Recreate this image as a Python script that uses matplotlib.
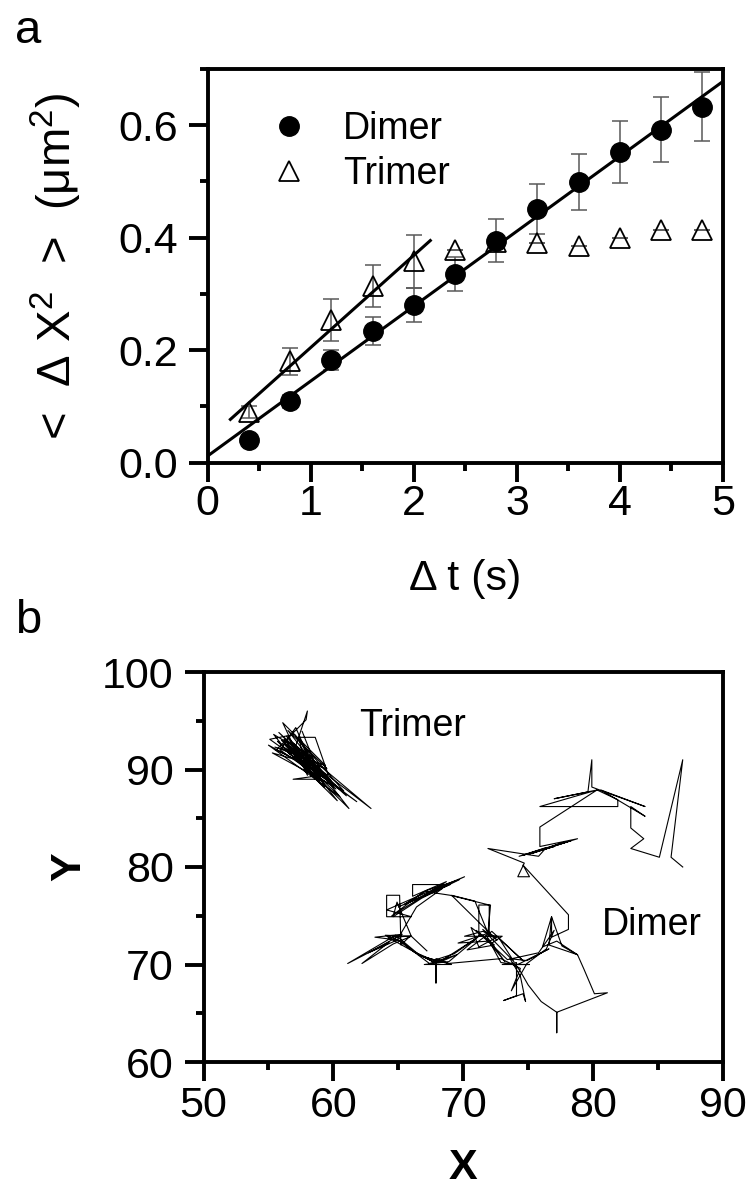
import matplotlib
matplotlib.use("Agg")
import matplotlib.pyplot as plt
from matplotlib.ticker import MultipleLocator
from matplotlib.lines import Line2D

plt.rcParams['font.family'] = ['Liberation Sans', 'DejaVu Sans']
plt.rcParams['mathtext.fontset'] = 'custom'
plt.rcParams['mathtext.rm'] = 'Liberation Sans'
plt.rcParams['mathtext.it'] = 'Liberation Sans:italic'
plt.rcParams['mathtext.bf'] = 'Liberation Sans:bold'

# ---------------- panel a data ----------------
dt = [0.4, 0.8, 1.2, 1.6, 2.0, 2.4, 2.8, 3.2, 3.6, 4.0, 4.4, 4.8]
dimer_msd = [0.041, 0.109, 0.183, 0.234, 0.281, 0.335, 0.395, 0.451, 0.499, 0.553, 0.592, 0.633]
dimer_err = [0.008, 0.012, 0.018, 0.025, 0.030, 0.030, 0.039, 0.044, 0.050, 0.055, 0.058, 0.061]
trimer_msd = [0.090, 0.180, 0.254, 0.314, 0.358, 0.379, 0.393, 0.391, 0.386, 0.399, 0.414, 0.414]
trimer_err = [0.010, 0.024, 0.037, 0.038, 0.047, 0.0, 0.0, 0.0, 0.0, 0.0, 0.0, 0.0]
dimer_fit_t = [0.0, 5.0]
dimer_fit_y = [0.012, 0.678]
trimer_fit_t = [0.22, 2.16]
trimer_fit_y = [0.077, 0.395]

# ---------------- panel b data (trajectories, x, y) ----------------
trimer_path = [
    (57.0, 92.0), (58.0, 96.0), (57.9, 95.1), (55.6, 92.0), (59.2, 89.6), (56.0, 93.0),
    (60.5, 87.2), (55.0, 92.5), (58.6, 89.9), (57.3, 93.3), (58.6, 93.3), (59.6, 89.5),
    (56.9, 89.0), (58.8, 89.0), (56.2, 92.6), (61.2, 86.0), (56.5, 94.0), (59.5, 90.1),
    (55.3, 91.7), (60.0, 88.3), (57.0, 93.6), (55.1, 93.1), (61.8, 86.7), (56.3, 92.2),
    (58.2, 90.6), (55.8, 93.8), (59.8, 88.9), (56.9, 92.7), (62.9, 86.0), (57.6, 91.4),
    (55.5, 92.3), (59.4, 90.4), (56.1, 94.8), (58.0, 89.4), (57.4, 92.9), (60.8, 87.8),
    (56.6, 91.6), (55.4, 93.6), (58.4, 91.2), (56.2, 93.1), (59.0, 88.6), (57.1, 94.3),
    (55.9, 92.0), (60.2, 88.0), (56.7, 92.4), (61.0, 87.3), (56.4, 93.4), (60.3, 86.8),
    (55.7, 92.9), (59.3, 88.2), (57.6, 93.9),
]
dimer_path = [
    (86.9, 80.0), (86.0, 81.0), (86.9, 91.0), (85.1, 81.0), (82.9, 81.9), (83.9, 82.9),
    (82.9, 84.0), (82.9, 86.2), (84.0, 85.2), (80.6, 87.9), (84.0, 86.2), (81.3, 87.5),
    (79.9, 88.2), (79.9, 91.0), (79.6, 87.7), (77.0, 87.0), (80.3, 87.9), (75.9, 86.2),
    (81.9, 86.2), (81.9, 86.9), (80.3, 87.9), (75.9, 84.1), (75.9, 82.1), (78.8, 82.9),
    (74.6, 81.2), (77.9, 82.6), (75.3, 81.4), (78.3, 82.7), (75.0, 81.3), (77.0, 82.1),
    (74.3, 81.1), (76.4, 82.0), (75.8, 81.1), (71.9, 81.9), (74.7, 80.4), (74.2, 79.0),
    (75.1, 79.0), (74.6, 80.2), (78.1, 75.1), (78.1, 73.6), (76.8, 72.8), (76.8, 74.9),
    (76.1, 71.8), (77.2, 72.4), (78.8, 71.0), (76.6, 72.0), (76.8, 74.9), (77.6, 71.9),
    (78.8, 71.0), (79.3, 69.5), (80.1, 67.0), (81.1, 67.1), (77.2, 65.1), (77.2, 63.0),
    (77.2, 65.1), (76.0, 66.2), (75.0, 67.9), (74.4, 69.3), (74.0, 70.0), (75.1, 70.0),
    (73.0, 70.0), (74.1, 70.2), (74.1, 66.8), (73.1, 66.3), (74.6, 67.0), (74.8, 66.2),
    (74.4, 68.8), (73.6, 70.6), (74.9, 70.4), (76.6, 71.6), (74.2, 70.0), (72.9, 70.2),
    (71.8, 72.9), (73.2, 70.3), (72.1, 72.1), (73.0, 72.9), (70.1, 72.9), (71.5, 73.4),
    (72.6, 72.8), (71.2, 71.8), (70.6, 73.8), (72.0, 72.4), (69.6, 72.2), (71.9, 73.2),
    (72.1, 76.1), (71.2, 76.1), (71.2, 72.9), (70.6, 72.2), (68.9, 70.3), (67.0, 70.0),
    (69.1, 70.0), (67.9, 70.6), (67.9, 68.1), (67.9, 70.5), (69.3, 71.1), (70.9, 72.6),
    (68.1, 70.2), (66.2, 71.3), (65.2, 72.4), (64.0, 73.0), (66.0, 72.9), (64.6, 72.1),
    (62.2, 70.1), (64.3, 72.3), (61.1, 70.1), (64.8, 73.0), (66.6, 71.0), (67.8, 70.2),
    (65.8, 71.6), (64.2, 72.8), (65.9, 72.9), (65.2, 72.0), (65.1, 77.1), (64.1, 77.1),
    (64.1, 74.9), (66.0, 74.9), (64.1, 75.6), (66.5, 77.0), (70.1, 79.0), (65.0, 75.9),
    (69.0, 78.2), (66.1, 78.2), (66.1, 77.0), (68.7, 78.5), (64.5, 75.0), (67.0, 77.5),
    (69.0, 77.1), (72.0, 76.1), (72.0, 72.9), (70.9, 76.5), (69.1, 77.1), (72.6, 72.5),
    (71.5, 73.6), (73.9, 70.3), (72.8, 72.6), (74.6, 70.4), (72.2, 73.4), (70.3, 71.5),
    (72.4, 72.0), (71.0, 73.5), (73.4, 70.5), (75.8, 71.2), (77.0, 73.5), (76.4, 71.6),
    (74.9, 70.1), (73.7, 67.3), (74.4, 69.6), (72.9, 70.6), (68.8, 70.1), (66.9, 70.8),
    (68.3, 70.3), (69.5, 71.0), (67.4, 70.1), (65.0, 72.5), (63.2, 72.8), (65.3, 73.1),
    (62.7, 71.2), (64.9, 72.5), (66.4, 75.9), (68.4, 77.8), (65.5, 76.2), (67.2, 77.6),
    (69.7, 78.7), (66.8, 76.8), (64.6, 74.9), (64.9, 76.4), (66.0, 72.9), (67.2, 71.4),
]
trimer_x = [p[0] for p in trimer_path]
trimer_y = [p[1] for p in trimer_path]
dimer_x = [p[0] for p in dimer_path]
dimer_y = [p[1] for p in dimer_path]

W, H = 754, 1195
fig = plt.figure(figsize=(W / 100, H / 100), dpi=100)

def style_axes(ax):
    for s in ax.spines.values():
        s.set_linewidth(2.8)
    ax.tick_params(which='major', direction='out', length=13.5, width=2.8,
                   labelsize=31, top=False, right=False)
    ax.tick_params(which='minor', direction='out', length=6, width=2.8,
                   top=False, right=False)

# ---------------- panel a ----------------
axa = fig.add_axes([207.7 / W, 1 - 462.7 / H, (723 - 207.7) / W, (462.7 - 69) / H])
style_axes(axa)
axa.errorbar(dt, dimer_msd, yerr=dimer_err, fmt='none', ecolor='0.35',
             elinewidth=1.1, capsize=6, capthick=1.1, zorder=2)
axa.errorbar(dt, trimer_msd, yerr=trimer_err, fmt='none', ecolor='0.35',
             elinewidth=1.1, capsize=6, capthick=1.1, zorder=2)
axa.plot(dimer_fit_t, dimer_fit_y, color='black', lw=2.2, zorder=3)
axa.plot(trimer_fit_t, trimer_fit_y, color='black', lw=2.2, zorder=3)
axa.plot(dt, dimer_msd, 'o', color='black', ms=14, zorder=4)
axa.plot(dt, trimer_msd, '^', mfc='none', mec='black', mew=1.3, ms=14, zorder=4)
axa.set_xlim(0, 5)
axa.set_ylim(0, 0.7)
axa.xaxis.set_major_locator(MultipleLocator(1))
axa.xaxis.set_minor_locator(MultipleLocator(0.5))
axa.yaxis.set_minor_locator(MultipleLocator(0.1))
axa.set_yticks([0.0, 0.2, 0.4, 0.6])
axa.set_yticklabels(['0.0', '0.2', '0.4', '0.6'])
axa.tick_params(axis='x', which='major', pad=2)
axa.tick_params(axis='y', which='major', pad=8)
axa.set_xlabel('Δ t (s)', fontsize=31)
axa.set_ylabel('<  Δ X$^2$  >  (μm$^2$)', fontsize=34)
axa.xaxis.set_label_coords(0.5, -0.245)
axa.yaxis.set_label_coords(-0.24, 0.5)

handles = [Line2D([], [], ls='none', marker='o', color='black', ms=14),
           Line2D([], [], ls='none', marker='^', mfc='none', mec='black', mew=1.3, ms=14)]
axa.legend(handles, ['Dimer', 'Trimer'], loc='upper left', bbox_to_anchor=(0.121, 0.893),
           frameon=False, borderpad=0, borderaxespad=0, handlelength=1.0,
           handletextpad=0.95, labelspacing=0.23, fontsize=27)

# ---------------- panel b ----------------
axb = fig.add_axes([203.5 / W, 1 - 1062 / H, (723 - 203.5) / W, (1062 - 672) / H])
style_axes(axb)
axb.plot(trimer_x, trimer_y, color='black', lw=0.8)
axb.plot(dimer_x, dimer_y, color='black', lw=0.8)
axb.set_xlim(50, 90)
axb.set_ylim(60, 100)
axb.xaxis.set_major_locator(MultipleLocator(10))
axb.xaxis.set_minor_locator(MultipleLocator(5))
axb.yaxis.set_major_locator(MultipleLocator(10))
axb.yaxis.set_minor_locator(MultipleLocator(5))
axb.tick_params(axis='x', which='major', pad=4)
axb.tick_params(axis='y', which='major', pad=8)
axb.set_xlabel('X', fontsize=31, fontweight='bold')
axb.set_ylabel('Y', fontsize=31, fontweight='bold')
axb.xaxis.set_label_coords(0.5, -0.22)
axb.yaxis.set_label_coords(-0.219, 0.5)
axb.text(62.0, 93.4, 'Trimer', fontsize=27)
axb.text(80.7, 73.0, 'Dimer', fontsize=27)

# panel letters
fig.text(15 / W, 1 - 43 / H, 'a', fontsize=34)
fig.text(15 / W, 1 - 633 / H, 'b', fontsize=34)

fig.savefig('out.png', dpi=100)
